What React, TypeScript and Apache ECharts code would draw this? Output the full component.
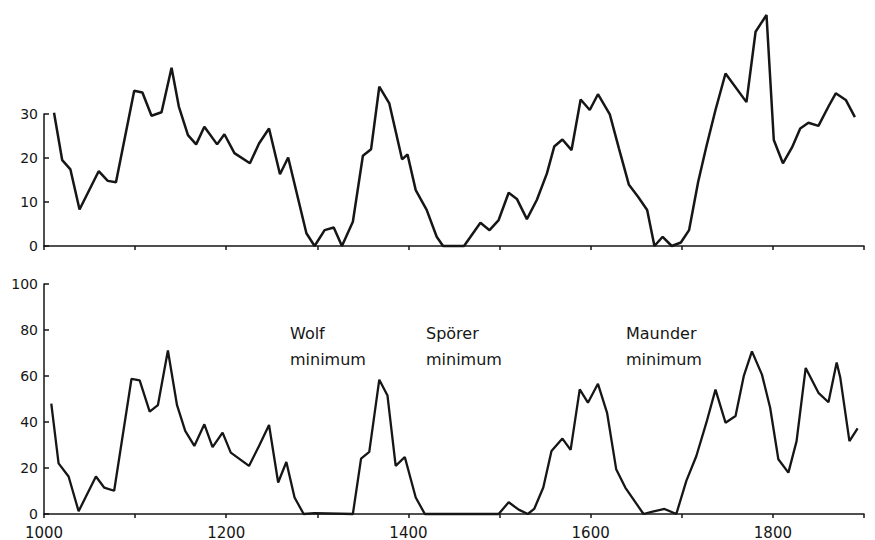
import React, { useEffect, useRef } from "react";
import * as echarts from "echarts";

const topYears = [1011, 1020, 1029, 1039, 1060, 1070, 1079, 1099, 1108, 1118, 1129, 1140, 1148, 1158, 1167, 1176, 1190, 1198, 1209, 1226, 1236, 1247, 1259, 1268, 1288, 1297, 1308, 1318, 1327, 1339, 1350, 1359, 1368, 1379, 1393, 1399, 1408, 1420, 1431, 1438, 1461, 1479, 1489, 1499, 1510, 1519, 1530, 1541, 1552, 1560, 1569, 1579, 1589, 1599, 1608, 1621, 1631, 1642, 1652, 1662, 1670, 1679, 1689, 1699, 1708, 1718, 1727, 1737, 1748, 1771, 1781, 1793, 1801, 1811, 1821, 1830, 1839, 1850, 1861, 1869, 1880, 1890];
const topValues = [30.3, 19.5, 17.4, 8.3, 17, 14.8, 14.5, 35.3, 34.9, 29.6, 30.4, 40.5, 31.7, 25.2, 23.1, 27.1, 23.1, 25.4, 21.1, 18.8, 23.3, 26.7, 16.3, 20.1, 2.9, 0, 3.6, 4.2, 0, 5.5, 20.5, 22, 36.2, 32.4, 19.7, 20.8, 12.7, 8.2, 2.1, 0, 0, 5.3, 3.6, 5.9, 12.1, 10.7, 6.1, 10.5, 16.5, 22.6, 24.2, 21.8, 33.3, 30.9, 34.5, 29.9, 22.2, 13.9, 11.2, 8.2, 0, 2.1, 0, 0.8, 3.6, 14.6, 22.6, 30.9, 39.2, 32.7, 48.7, 52.5, 24.1, 18.8, 22.4, 26.7, 28, 27.3, 31.7, 34.7, 33.2, 29.3];

const bottomYears = [1008, 1016, 1027, 1038, 1057, 1066, 1077, 1096, 1105, 1116, 1125, 1136, 1146, 1155, 1165, 1176, 1185, 1196, 1205, 1225, 1236, 1247, 1257, 1266, 1275, 1285, 1297, 1339, 1348, 1357, 1368, 1377, 1386, 1396, 1408, 1418, 1499, 1510, 1521, 1531, 1538, 1548, 1557, 1569, 1578, 1588, 1597, 1608, 1618, 1628, 1638, 1658, 1668, 1681, 1694, 1705, 1716, 1727, 1737, 1748, 1759, 1768, 1777, 1788, 1797, 1806, 1817, 1826, 1836, 1850, 1861, 1870, 1874, 1884, 1893];
const bottomValues = [48, 22, 16.3, 1.2, 16.3, 11.5, 10.1, 58.7, 58.1, 44.5, 47.3, 71.1, 47.3, 36.1, 29.6, 39, 29.1, 35.4, 26.7, 20.9, 29.6, 38.7, 13.7, 22.6, 7.2, 0, 0.4, 0, 24.1, 27, 58.4, 51.5, 20.9, 24.8, 7.2, 0, 0, 5.1, 1.9, 0, 2.2, 11.5, 27.4, 32.8, 27.9, 54.2, 48.4, 56.6, 44, 19.5, 11.5, 0, 1, 2.2, 0, 14.4, 25.2, 39.7, 54.1, 39.7, 42.6, 59.9, 70.7, 60.6, 46.2, 23.8, 18, 31.7, 63.5, 52.7, 48.6, 65.9, 59.2, 31.7, 37.2];

const xLabelYears = [1000, 1200, 1400, 1600, 1800];
const topYTicks = [0, 10, 20, 30];
const bottomYTicks = [0, 20, 40, 60, 80, 100];
const annotationTexts = ["Wolf\nminimum", "Spörer\nminimum", "Maunder\nminimum"];
const annotationLeft = [290, 426, 626];

const INK = "#161616";
const FONT = "DejaVu Sans";

export default function App() {
  const ref = useRef<HTMLDivElement>(null);
  useEffect(() => {
    if (!ref.current) return;
    const chart = echarts.init(ref.current, null, { renderer: "svg" });
    const pairs = (xs: number[], ys: number[]) => xs.map((x, i) => [x, ys[i]]);
    const xAxisBase = (gridIndex: number, showLabels: boolean) => ({
      type: "value",
      gridIndex,
      min: 1000,
      max: 1900,
      interval: 100,
      axisLine: { show: true, lineStyle: { color: INK, width: 1.5 } },
      axisTick: { show: true, length: 4, lineStyle: { color: INK, width: 1.5 } },
      splitLine: { show: false },
      axisLabel: {
        show: showLabels,
        color: INK,
        fontFamily: FONT,
        fontSize: 15,
        margin: 11,
        formatter: (v: number) => (xLabelYears.includes(v) ? String(v) : ""),
      },
    });
    const yAxisBase = (gridIndex: number, max: number, interval: number) => ({
      type: "value",
      gridIndex,
      min: 0,
      max,
      interval,
      axisLine: { show: true, lineStyle: { color: INK, width: 1.5 } },
      axisTick: { show: true, inside: true, length: 5, lineStyle: { color: INK, width: 1.5 } },
      splitLine: { show: false },
      axisLabel: { color: INK, fontFamily: FONT, fontSize: 14, margin: 6 },
    });
    chart.setOption({
      animation: false,
      backgroundColor: "#ffffff",
      grid: [
        { left: 44, right: 11, top: 114, bottom: 294 },
        { left: 44, right: 11, top: 284, bottom: 25 },
      ],
      xAxis: [xAxisBase(0, false), xAxisBase(1, true)],
      yAxis: [
        yAxisBase(0, topYTicks[topYTicks.length - 1], 10),
        yAxisBase(1, bottomYTicks[bottomYTicks.length - 1], 20),
      ],
      series: [
        {
          type: "line",
          xAxisIndex: 0,
          yAxisIndex: 0,
          data: pairs(topYears, topValues),
          showSymbol: false,
          clip: false,
          lineStyle: { color: INK, width: 2.5 },
        },
        {
          type: "line",
          xAxisIndex: 1,
          yAxisIndex: 1,
          data: pairs(bottomYears, bottomValues),
          showSymbol: false,
          clip: false,
          lineStyle: { color: INK, width: 2.3 },
        },
      ],
      graphic: annotationTexts.map((t, i) => ({
        type: "text",
        left: annotationLeft[i],
        top: 320,
        style: {
          text: t,
          fill: INK,
          font: `16px "${FONT}"`,
          lineHeight: 26,
        },
      })),
    });
    return () => chart.dispose();
  }, []);
  return <div ref={ref} style={{ width: 875, height: 540, position: "absolute", left: 0, top: 0 }} />;
}
